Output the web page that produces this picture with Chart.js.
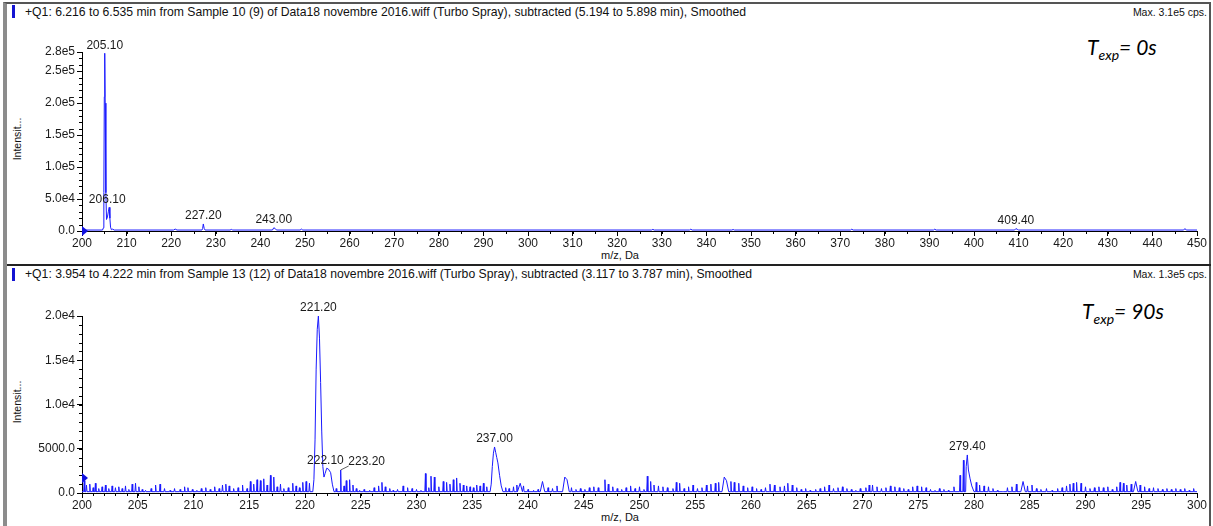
<!DOCTYPE html>
<html>
<head>
<meta charset="utf-8">
<title>Q1 spectra</title>
<script src="https://cdn.jsdelivr.net/npm/chart.js@4.4.0/dist/chart.umd.min.js"></script>
<style>
  body { margin: 0; width: 1213px; height: 526px; overflow: hidden; background: #fff; font-family: Arial, "Liberation Sans", sans-serif; color: #111; position: relative; }
  #frame { position: absolute; left: 3px; top: 2px; width: 1202px; height: 540px; border-left: 4px solid #8c8c8c; border-top: 2px solid #555; border-right: 2px solid #555; }
  .sep { position: absolute; left: 7px; top: 264px; width: 1204px; height: 2px; background: #222; }
  .mark { position: absolute; left: 12px; width: 3px; height: 13px; background: #1414d2; }
  .head { position: absolute; left: 25px; font-size: 12.2px; line-height: 13px; white-space: nowrap; }
  .max { position: absolute; right: 6px; font-size: 10.5px; line-height: 13px; white-space: nowrap; }
  .texp { position: absolute; font-family: Lato, "Open Sans", sans-serif; font-style: italic; font-size: 21px; white-space: nowrap; color: #000; }
  .texp sub { font-size: 14px; vertical-align: -5px; }
  .ytitle { position: absolute; left: 17px; font-size: 10.5px; white-space: nowrap; transform: translate(-50%, -50%) rotate(-90deg); }
  .xtitle { position: absolute; left: 620px; font-size: 11px; white-space: nowrap; transform: translate(-50%, -50%); }
  .plot { position: absolute; left: 10px; width: 1200px; height: 222px; }
</style>
</head>
<body>
<div id="frame"></div>
<div class="sep"></div>

<div class="mark" style="top:5px"></div>
<div class="head" style="top:6px">+Q1: 6.216 to 6.535 min from Sample 10 (9) of Data18 novembre 2016.wiff (Turbo Spray), subtracted (5.194 to 5.898 min), Smoothed</div>
<div class="max" style="top:6px">Max. 3.1e5 cps.</div>
<div class="texp" style="left:1087px; top:34px">T<sub>exp</sub>= 0s</div>
<div class="ytitle" style="top:139px">Intensit...</div>
<div class="xtitle" style="top:255px">m/z, Da</div>
<div class="plot" style="top:40px"><canvas id="topChart"></canvas></div>

<div class="mark" style="top:268px"></div>
<div class="head" style="top:268px">+Q1: 3.954 to 4.222 min from Sample 13 (12) of Data18 novembre 2016.wiff (Turbo Spray), subtracted (3.117 to 3.787 min), Smoothed</div>
<div class="max" style="top:268px">Max. 1.3e5 cps.</div>
<div class="texp" style="left:1082px; top:298px">T<sub>exp</sub>= 90s</div>
<div class="ytitle" style="top:402px">Intensit...</div>
<div class="xtitle" style="top:517px">m/z, Da</div>
<div class="plot" style="top:300px"><canvas id="bottomChart"></canvas></div>

<script>
// ---- T = 0 s spectrum, m/z 200-450 ----
const topProfile = [
  [200, 1500], [204.6, 1500], [204.8, 5000], [204.9, 60000], [205.0, 210000], [205.1, 278000],
  [205.2, 200000], [205.35, 60000], [205.5, 18000], [205.7, 22000], [205.9, 30000], [206.1, 37000],
  [206.25, 20000], [206.4, 6000], [206.6, 2000], [206.9, 3000], [207.2, 1500],
  [220.5, 1500], [220.9, 3000], [221.3, 1500],
  [226.9, 1500], [227.05, 4000], [227.2, 11000], [227.4, 4000], [227.6, 1500],
  [233.2, 1500], [233.5, 2500], [233.8, 1500],
  [242.7, 1500], [243.0, 5000], [243.3, 4000], [243.6, 1500],
  [248.9, 1500], [249.2, 3000], [249.5, 1500],
  [327.7, 1500], [328.0, 2500], [328.3, 1500],
  [336.2, 1500], [336.5, 2800], [336.8, 1500],
  [345.7, 1500], [346.0, 2300], [346.3, 1500],
  [372.3, 1500], [372.6, 2800], [372.9, 1500],
  [390.9, 1500], [391.2, 2800], [391.5, 1500],
  [409.1, 1500], [409.4, 3800], [409.7, 2600], [410.0, 1500],
  [447.0, 1500], [447.3, 3800], [447.6, 1500], [450, 1500]
];
const topTicksY = [0, 50000, 100000, 150000, 200000, 250000, 280000];
const topTickLabelsY = ['0.0', '5.0e4', '1.0e5', '1.5e5', '2.0e5', '2.5e5', '2.8e5'];
const topPeakMz = [205.1, 206.1, 227.2, 243.0, 409.4];
const topPeakText = ['205.10', '206.10', '227.20', '243.00', '409.40'];

// ---- T = 90 s spectrum, m/z 200-300 ----
const bottomBaseline = 150;
const bottomPeaks = [
  [200, 150], [220.7, 150], [220.8, 1500], [220.9, 6000], [221.0, 14000], [221.1, 18500], [221.2, 20000],
  [221.3, 17500], [221.4, 12500], [221.5, 7000], [221.6, 3000], [221.7, 1800], [221.8, 2200],
  [221.95, 2800], [222.1, 2700], [222.3, 2300], [222.45, 1000], [222.6, 150],
  [236.6, 150], [236.7, 1000], [236.8, 3000], [236.9, 4500], [237.0, 5200], [237.1, 4600],
  [237.2, 4000], [237.3, 3400], [237.45, 2000], [237.6, 800], [237.75, 150],
  [279.25, 150], [279.3, 3000], [279.4, 4300], [279.5, 2600], [279.65, 1600], [279.8, 800], [280.0, 150],
  [300, 150]
];
const bottomHumps = [
  [239.1, 150], [239.3, 1100], [239.5, 150],
  [241.1, 150], [241.3, 1300], [241.5, 150],
  [243.1, 150], [243.3, 1800], [243.5, 1500], [243.7, 150],
  [257.4, 150], [257.6, 1800], [257.8, 1400], [258.0, 150],
  [284.2, 150], [284.4, 1300], [284.6, 150],
  [294.3, 150], [294.5, 1300], [294.7, 150]
];
const bottomNoise = [
  [200.2, 1400], [200.4, 900], [200.7, 1000], [201.0, 600], [201.2, 1100], [201.5, 500], [201.8, 700],
  [202.1, 900], [202.4, 500], [202.7, 800], [203.0, 600], [203.3, 700], [203.6, 500], [203.9, 800],
  [204.2, 400], [204.5, 1000], [204.8, 1100], [205.1, 700], [205.4, 400], [205.7, 300], [206.2, 500],
  [206.6, 900], [207.0, 1000], [207.4, 500], [207.9, 300], [208.3, 500], [208.8, 400], [209.2, 700],
  [209.5, 600], [209.9, 400], [210.3, 300], [210.7, 500], [211.1, 600], [211.5, 400], [211.9, 700],
  [212.3, 500], [212.6, 900], [212.9, 1000], [213.2, 800], [213.6, 500], [214.0, 600], [214.4, 900],
  [214.8, 500], [215.1, 1300], [215.4, 1000], [215.7, 1500], [216.0, 1400], [216.3, 1600], [216.6, 900],
  [216.9, 2000], [217.2, 1800], [217.5, 700], [217.8, 1000], [218.1, 500], [218.5, 600], [218.9, 1100],
  [219.2, 800], [219.5, 600], [219.8, 1200], [220.1, 1300], [220.4, 1100],
  [222.8, 500], [223.2, 2600], [223.5, 800], [223.7, 1400], [224.0, 1500], [224.3, 900], [224.6, 500],
  [224.9, 300], [225.3, 400], [225.8, 300], [226.2, 600], [226.6, 800], [226.9, 1200], [227.2, 700],
  [227.6, 500], [227.9, 300], [228.3, 400], [228.8, 800], [229.2, 600], [229.6, 500], [230.0, 400],
  [230.4, 300], [230.8, 2200], [231.1, 600], [231.3, 1900], [231.6, 1800], [232.0, 700], [232.4, 1300],
  [232.7, 1200], [233.0, 1000], [233.3, 1500], [233.6, 1700], [233.9, 1100], [234.2, 900], [234.5, 800],
  [234.8, 700], [235.1, 600], [235.4, 900], [235.7, 800], [236.0, 1100], [236.3, 700],
  [238.0, 600], [238.3, 500], [238.7, 700], [239.0, 900], [239.6, 800], [240.0, 400], [240.5, 300],
  [240.9, 400], [241.8, 600], [242.2, 500], [242.6, 800], [243.9, 600], [244.3, 400], [244.7, 500],
  [245.1, 400], [245.5, 600], [245.9, 700], [246.3, 600], [246.9, 1500], [247.2, 1000], [247.6, 700],
  [248.0, 500], [248.4, 400], [248.8, 600], [249.2, 800], [249.6, 500], [250.0, 700], [250.4, 400],
  [250.7, 1900], [251.0, 1300], [251.3, 900], [251.7, 800], [252.1, 700], [252.5, 600], [253.0, 500],
  [253.3, 1200], [253.6, 1100], [254.0, 500], [254.4, 700], [254.8, 900], [255.2, 500], [255.6, 600],
  [256.0, 900], [256.4, 1000], [256.8, 1100], [257.1, 1200], [258.2, 1300], [258.5, 1200], [258.9, 1100],
  [259.3, 800], [259.7, 600], [260.1, 700], [260.5, 500], [260.9, 400], [261.3, 600], [261.7, 1000],
  [262.1, 900], [262.6, 700], [263.0, 800], [263.3, 1100], [263.7, 900], [264.1, 600], [264.5, 400],
  [264.9, 500], [265.3, 300], [265.8, 400], [266.2, 500], [266.6, 700], [267.0, 900], [267.4, 500],
  [267.8, 600], [268.2, 700], [268.6, 500], [269.0, 400], [269.4, 300], [269.8, 500], [270.3, 600],
  [270.6, 900], [270.9, 900], [271.3, 700], [271.7, 500], [272.1, 600], [272.5, 800], [272.9, 700],
  [273.3, 600], [273.7, 500], [274.1, 400], [274.5, 700], [274.9, 800], [275.3, 700], [275.7, 600],
  [276.1, 400], [276.5, 300], [276.9, 500], [277.3, 400], [277.7, 300], [278.2, 700], [278.75, 2000],
  [279.05, 3700],
  [280.2, 1200], [280.5, 900], [280.9, 800], [281.3, 700], [281.7, 500], [282.1, 300], [282.6, 200],
  [283.0, 600], [283.4, 700], [283.8, 1000], [284.8, 800], [285.2, 900], [285.6, 500], [286.0, 400],
  [286.5, 500], [287.0, 300], [287.5, 500], [287.9, 600], [288.3, 800], [288.6, 1000], [288.9, 1100],
  [289.2, 1200], [289.6, 1100], [290.0, 700], [290.4, 500], [290.8, 600], [291.2, 700], [291.6, 600],
  [292.0, 700], [292.4, 400], [292.8, 700], [293.1, 1200], [293.4, 1100], [293.7, 900], [294.1, 1000],
  [294.9, 900], [295.3, 700], [295.7, 500], [296.1, 600], [296.5, 500], [296.9, 400], [297.3, 500],
  [297.7, 400], [298.1, 500], [298.5, 400], [298.9, 500], [299.3, 300], [299.7, 500]
];
const bottomTicksY = [0, 5000, 10000, 15000, 20000];
const bottomTickLabelsY = ['0.0', '5000.0', '1.0e4', '1.5e4', '2.0e4'];
const bottomPeakMz = [221.2, 222.1, 223.2, 237.0, 279.4];
const bottomPeakText = ['221.20', '222.10', '223.20', '237.00', '279.40'];

const lineBlue = 'rgb(25,25,255)';
const textColor = '#1a1a1a';

// noise sticks become narrow spikes that drop back to the baseline
function spectrum(profile, sticks, base) {
  const pts = profile.slice();
  sticks.forEach(([mz, h]) => {
    pts.push([mz - 0.05, base], [mz, h], [mz + 0.05, base]);
  });
  pts.sort((a, b) => a[0] - b[0]);
  return pts.map(([x, y]) => ({ x, y }));
}

// short minor ticks on both axes
const minorTicks = {
  id: 'minorTicks',
  afterDraw(chart, args, opts) {
    const { ctx } = chart;
    const x = chart.scales.x, y = chart.scales.y;
    ctx.save();
    ctx.strokeStyle = '#000';
    ctx.lineWidth = 1;
    ctx.beginPath();
    const nx = Math.round((x.max - x.min) / opts.x);
    for (let i = 0; i <= nx; i++) {
      const px = Math.round(x.getPixelForValue(x.min + i * opts.x)) + 0.5;
      ctx.moveTo(px, y.bottom);
      ctx.lineTo(px, y.bottom + 3);
    }
    const ny = Math.floor((y.max - y.min) / opts.y);
    for (let i = 0; i <= ny; i++) {
      const py = Math.round(y.getPixelForValue(y.min + i * opts.y)) + 0.5;
      ctx.moveTo(x.left, py);
      ctx.lineTo(x.left - 3, py);
    }
    ctx.stroke();
    // baseline marker
    const my = y.getPixelForValue(opts.marker);
    ctx.fillStyle = '#1010e0';
    ctx.beginPath();
    ctx.moveTo(x.left, my - 5);
    ctx.lineTo(x.left + 6, my);
    ctx.lineTo(x.left, my + 5);
    ctx.closePath();
    ctx.fill();
    ctx.restore();
  }
};

// m/z labels above the labelled peaks
const peakLabels = {
  id: 'peakLabels',
  afterDatasetsDraw(chart, args, opts) {
    const { ctx } = chart;
    const x = chart.scales.x, y = chart.scales.y;
    const pts = chart.data.datasets[0].data;
    ctx.save();
    ctx.font = '12px Arial, "Liberation Sans", sans-serif';
    ctx.fillStyle = textColor;
    ctx.textAlign = 'center';
    ctx.textBaseline = 'bottom';
    opts.mz.forEach((mz, i) => {
      const p = pts.find(d => Math.abs(d.x - mz) < 1e-6);
      const px = x.getPixelForValue(mz);
      const py = y.getPixelForValue(p.y);
      const dx = (opts.dx && opts.dx[i]) || 0;
      ctx.fillText(opts.text[i], px + dx, py - 2);
      if (dx > 15) {
        ctx.strokeStyle = '#333';
        ctx.lineWidth = 0.8;
        ctx.beginPath();
        ctx.moveTo(px, py);
        ctx.lineTo(px + dx - 18, py - 4);
        ctx.stroke();
      }
    });
    ctx.restore();
  }
};

function makeChart(id, points, cfg) {
  return new Chart(document.getElementById(id), {
    type: 'line',
    data: {
      datasets: [{
        data: points,
        borderColor: lineBlue,
        borderWidth: 1,
        pointRadius: 0,
        tension: 0,
        fill: false,
        clip: false
      }]
    },
    options: {
      responsive: true,
      maintainAspectRatio: false,
      animation: false,
      parsing: true,
      layout: { padding: { top: cfg.padTop, right: 13, left: 0, bottom: 0 } },
      plugins: {
        legend: { display: false },
        tooltip: { enabled: false },
        minorTicks: { x: cfg.minorX, y: cfg.minorY, marker: cfg.marker },
        peakLabels: { mz: cfg.peakMz, text: cfg.peakText, dx: cfg.peakDx }
      },
      scales: {
        x: {
          type: 'linear',
          min: cfg.xMin,
          max: cfg.xMax,
          afterFit: s => { s.height = cfg.xHeight; },
          border: { display: true, color: '#000', width: 1 },
          grid: { drawOnChartArea: false, drawTicks: true, tickLength: 5, tickColor: '#000' },
          ticks: {
            stepSize: cfg.xStep,
            autoSkip: false,
            maxRotation: 0,
            padding: 0,
            color: textColor,
            font: { family: 'Arial, "Liberation Sans", sans-serif', size: 12 },
            callback: v => String(v)
          }
        },
        y: {
          type: 'linear',
          min: 0,
          max: cfg.yMax,
          afterFit: s => { s.width = 72; },
          afterBuildTicks: s => { s.ticks = cfg.yTicks.map(v => ({ value: v })); },
          border: { display: true, color: '#000', width: 1 },
          grid: { drawOnChartArea: false, drawTicks: true, tickLength: 5, tickColor: '#000' },
          ticks: {
            autoSkip: false,
            padding: 2,
            color: textColor,
            font: { family: 'Arial, "Liberation Sans", sans-serif', size: 12 },
            callback: (v, i) => cfg.yLabels[i]
          }
        }
      }
    },
    plugins: [minorTicks, peakLabels]
  });
}

makeChart('topChart', spectrum(topProfile, [], 1500), {
  xMin: 200, xMax: 450, xStep: 10, minorX: 5,
  yMax: 280000, yTicks: topTicksY, yLabels: topTickLabelsY, minorY: 10000,
  padTop: 12, xHeight: 31, marker: 0,
  peakMz: topPeakMz, peakText: topPeakText, peakDx: [0, -2, 0, 0, 0]
});

makeChart('bottomChart', spectrum(bottomPeaks.concat(bottomHumps), bottomNoise, bottomBaseline), {
  xMin: 200, xMax: 300, xStep: 5, minorX: 1,
  yMax: 20000, yTicks: bottomTicksY, yLabels: bottomTickLabelsY, minorY: 1000,
  padTop: 16, xHeight: 29, marker: 1700,
  peakMz: bottomPeakMz, peakText: bottomPeakText, peakDx: [0, -3, 26, 0, 0]
});
</script>
</body>
</html>
